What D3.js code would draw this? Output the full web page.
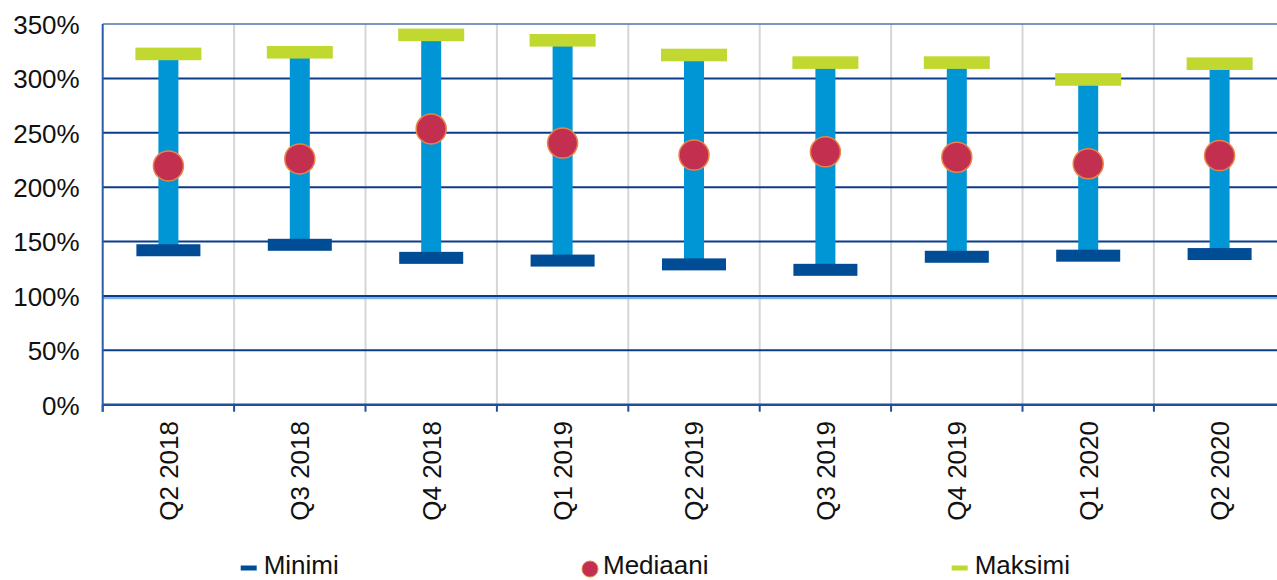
<!DOCTYPE html>
<html>
<head>
<meta charset="utf-8">
<script src="https://cdn.jsdelivr.net/npm/d3@7"></script>
<style>
  html, body { margin: 0; padding: 0; background: #ffffff; }
  svg { display: block; font-family: "Liberation Sans", Arial, sans-serif; }
</style>
</head>
<body>
<svg id="chart" width="1277" height="580"></svg>
<script>
const categories = ["Q2 2018", "Q3 2018", "Q4 2018", "Q1 2019", "Q2 2019", "Q3 2019", "Q4 2019", "Q1 2020", "Q2 2020"];
const minimi   = [142, 147, 135, 132.5, 129, 124, 136, 137, 138.5];
const mediaani = [219.5, 226, 253.5, 240.5, 229.5, 232.5, 227.5, 221.5, 229];
const maksimi  = [322.5, 324, 340, 335, 321.5, 314.5, 314.5, 299, 313.5];
const yTicks = [0, 50, 100, 150, 200, 250, 300, 350];
const legendLabels = ["Minimi", "Mediaani", "Maksimi"];

const svg = d3.select("#chart");
const left = 102.7, bandW = 131.4;
const x = d3.scaleBand().domain(categories).range([left, left + bandW * categories.length]).padding(0);
const y = d3.scaleLinear().domain([0, 350]).range([404.7, 24]);
const right = 1277;

const cMin = "#004d95", cMax = "#c0d82f", cBar = "#0096d6", cMed = "#c3304f", cMedStroke = "#e8844a";

// vertical gridlines at category boundaries
const bounds = categories.slice(1).map(c => x(c));
svg.append("g").selectAll("line").data(bounds).join("line")
  .attr("x1", d => d).attr("x2", d => d)
  .attr("y1", y(350)).attr("y2", y(0))
  .attr("stroke", "#d6d6d6").attr("stroke-width", 2);

// light blue reference at 100%
svg.append("line")
  .attr("x1", left).attr("x2", right)
  .attr("y1", y(100) + 1.8).attr("y2", y(100) + 1.8)
  .attr("stroke", "#7fb2e6").attr("stroke-width", 3);

// horizontal gridlines
svg.append("g").selectAll("line").data(yTicks.filter(t => t > 0 && t < 350)).join("line")
  .attr("x1", left).attr("x2", right)
  .attr("y1", d => y(d)).attr("y2", d => y(d))
  .attr("stroke", "#0b3c8c").attr("stroke-width", 2);

// top border
svg.append("line")
  .attr("x1", left).attr("x2", right)
  .attr("y1", y(350)).attr("y2", y(350))
  .attr("stroke", "#5174a8").attr("stroke-width", 1.5);

// x axis
const xAxis = d3.axisBottom(x).tickSize(0).tickFormat("");
const gx = svg.append("g").attr("transform", `translate(0,${y(0)})`).call(xAxis);
gx.select(".domain").attr("stroke", "#1f4e9a").attr("stroke-width", 2.5).attr("d", `M${left},0H${right}`);
gx.append("g").selectAll("line").data([left].concat(bounds)).join("line")
  .attr("x1", d => d).attr("x2", d => d).attr("y1", 0).attr("y2", 7)
  .attr("stroke", "#1f4e9a").attr("stroke-width", 2);

// x labels
svg.append("g").selectAll("text").data(categories).join("text")
  .attr("transform", d => `translate(${x(d) + x.bandwidth() / 2},421) rotate(-90)`)
  .attr("dy", "0.36em")
  .attr("text-anchor", "end")
  .attr("font-size", 26)
  .attr("fill", "#111")
  .text(d => d);

// y axis
const yAxis = d3.axisLeft(y).tickValues(yTicks).tickSize(0).tickPadding(23).tickFormat(d => d + "%");
const gy = svg.append("g").attr("transform", `translate(${left},0)`).call(yAxis);
gy.select(".domain").attr("stroke", "#2b5bab").attr("stroke-width", 2).attr("d", `M0,${y(350)}V${y(0) + 7}`);
gy.selectAll(".tick text").attr("font-size", 26).attr("fill", "#111")
  .attr("font-family", "'Liberation Sans', Arial, sans-serif").attr("dy", "0.36em");

// bars (min to max)
const cx = i => x(categories[i]) + x.bandwidth() / 2;
svg.append("g").selectAll("rect").data(categories).join("rect")
  .attr("x", (d, i) => cx(i) - 10).attr("width", 20)
  .attr("y", (d, i) => y(maksimi[i])).attr("height", (d, i) => y(minimi[i]) - y(maksimi[i]))
  .attr("fill", cBar);

// max caps
svg.append("g").selectAll("rect").data(maksimi).join("rect")
  .attr("x", (d, i) => cx(i) - 33).attr("width", 66)
  .attr("y", d => y(d) - 6.3).attr("height", 12.6)
  .attr("fill", cMax);

// min caps
svg.append("g").selectAll("rect").data(minimi).join("rect")
  .attr("x", (d, i) => cx(i) - 32).attr("width", 64)
  .attr("y", d => y(d) - 6).attr("height", 12)
  .attr("fill", cMin);

// median circles
svg.append("g").selectAll("circle").data(mediaani).join("circle")
  .attr("cx", (d, i) => cx(i)).attr("cy", d => y(d)).attr("r", 15)
  .attr("fill", cMed).attr("stroke", cMedStroke).attr("stroke-width", 1.5);

// legend
const legendX = [240.7, 582, 951.7];
const legendBase = 574;
const lg = svg.append("g");
legendLabels.forEach((lab, i) => {
  const g = lg.append("g");
  if (i === 1) {
    g.append("circle").attr("cx", legendX[i] + 8).attr("cy", 569).attr("r", 8)
      .attr("fill", cMed).attr("stroke", cMedStroke).attr("stroke-width", 1);
    g.append("text").attr("x", legendX[i] + 21).attr("y", legendBase).attr("font-size", 26).attr("fill", "#111").text(lab);
  } else {
    g.append("line").attr("x1", legendX[i]).attr("x2", legendX[i] + 16).attr("y1", 568).attr("y2", 568)
      .attr("stroke", i === 0 ? cMin : cMax).attr("stroke-width", 5);
    g.append("text").attr("x", legendX[i] + 23).attr("y", legendBase).attr("font-size", 26).attr("fill", "#111").text(lab);
  }
});
</script>
</body>
</html>
